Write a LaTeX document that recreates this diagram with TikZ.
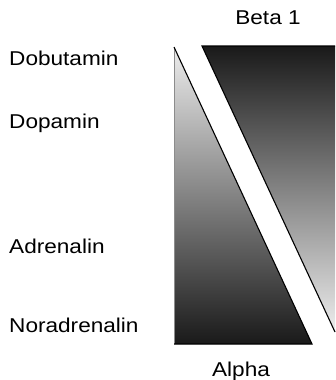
\documentclass[tikz,border=0pt]{standalone}
\usepackage{fontspec}
\setmainfont[FakeStretch=1.13]{Liberation Sans}
\definecolor{lightend}{gray}{0.93}
\definecolor{darkend}{gray}{0.10}
\definecolor{edgegray}{gray}{0.55}
\tikzset{
  drug/.style={anchor=base west, inner sep=0pt, font=\fontsize{20}{24}\selectfont},
  receptor/.style={anchor=base, inner sep=0pt, font=\fontsize{20}{24}\selectfont}
}
\begin{document}
\begin{tikzpicture}[x=1pt, y=-1pt]
			\useasboundingbox (0,0) rectangle (335,380);

			% Define corner points of the two wedges
			\coordinate (AT) at (174, 47);
			\coordinate (AB) at (174, 344);
			\coordinate (AR) at (312, 344);
			\coordinate (BT) at (202, 46);
			\coordinate (BR) at (335, 46);
			\coordinate (BB) at (335, 332);

			% Alpha wedge, light at the top
			\shade[top color=lightend, bottom color=darkend] (AT) -- (AB) -- (AR) -- cycle;
			\draw[edgegray, thin] (AT) -- (AB);
			\draw[black, line width=1.1pt] (AB) -- (AR) -- (AT);

			% Beta 1 wedge, dark at the top
			\shade[top color=darkend, bottom color=lightend] (BT) -- (BR) -- (BB) -- cycle;
			\draw[black, line width=1.1pt] (BR) -- (BT) -- (BB);

			% Labels of the drugs
			\node[drug] (dobu) at (9, 65) {Dobutamin};
			\node[drug] (dopa) at (9, 128) {Dopamin};
			\node[drug] (adre) at (9, 253) {Adrenalin};
			\node[drug] (nora) at (9, 332) {Noradrenalin};

			% Labels of the receptors
			\node[receptor] (beta) at (268, 24) {Beta 1};
			\node[receptor] (alpha) at (241, 376) {Alpha};

		\end{tikzpicture}
\end{document}
